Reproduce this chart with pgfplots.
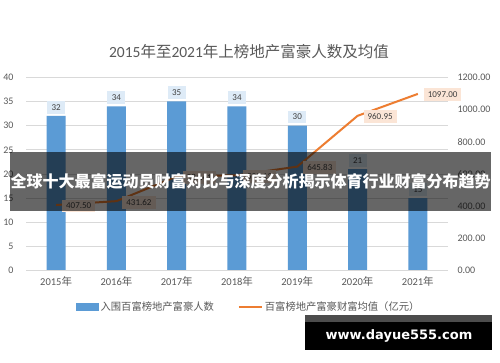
\documentclass[border=0pt]{standalone}
\usepackage{pgfplots}
\pgfplotsset{compat=1.18}
\usepackage{fontspec}
\setmainfont{Noto Sans CJK SC}
\newfontfamily\carlito{Carlito}
\newfontfamily\dejabold{DejaVu Sans Bold}
\definecolor{barblue}{HTML}{5B9BD5}
\definecolor{lineorange}{HTML}{ED7D31}
\definecolor{lblblue}{HTML}{DEEBF7}
\definecolor{lblorange}{HTML}{FBE5D6}
\definecolor{textgray}{HTML}{595959}
\definecolor{lbltext}{HTML}{404040}
\definecolor{gridgray}{HTML}{D9D9D9}
\begin{document}
\begin{tikzpicture}[x=1pt,y=1pt]
\path[use as bounding box, fill=white] (0,0) rectangle (500,362);
\node[text=textgray, font=\fontsize{15.5}{18}\selectfont] at (249,310) {{\carlito 2015}年至{\carlito 2021}年上榜地产富豪人数及均值};
\begin{axis}[
  at={(26pt,91.3pt)}, anchor=south west,
  scale only axis, width=422pt, height=193.4pt,
  xmin=-0.5, xmax=6.5, ymin=0, ymax=40,
  xtick={0,...,6},
  xticklabels={{{\carlito 2015}年},{{\carlito 2016}年},{{\carlito 2017}年},{{\carlito 2018}年},{{\carlito 2019}年},{{\carlito 2020}年},{{\carlito 2021}年}},
  ytick={0,5,...,40},
  yticklabels={0,5,10,15,20,25,30,35,40},
  axis line style={draw=none},
  major tick length=0pt,
  ymajorgrids, grid style={draw=gridgray, line width=0.7pt},
  yticklabel style={font=\carlito\fontsize{10}{12}\selectfont, text=textgray, xshift=-9pt},
  xticklabel style={font=\fontsize{10.5}{12}\selectfont, text=textgray, yshift=-2pt},
  ybar, bar width=19pt,
  nodes near coords, point meta=explicit symbolic,
  nodes near coords style={anchor=south, yshift=2pt, fill=lblblue, text=lbltext,
    font=\carlito\fontsize{9}{10}\selectfont, inner xsep=4.5pt, inner ysep=3.5pt},
]
\addplot[fill=barblue, draw=none] coordinates {(0,32) [32] (1,34) [34] (2,35) [35] (3,34) [34] (4,30) [30] (5,21) [21] (6,15) [15]};
\draw[gridgray, line width=0.8pt] (rel axis cs:0,0) -- (rel axis cs:1,0);
\end{axis}
\begin{axis}[
  at={(26pt,91.3pt)}, anchor=south west,
  scale only axis, width=422pt, height=193.4pt,
  xmin=-0.5, xmax=6.5, ymin=0, ymax=1200,
  hide x axis,
  axis line style={draw=none},
  major tick length=0pt,
  yticklabel pos=right,
  ytick={0,200,...,1200},
  yticklabels={0.00,200.00,400.00,600.00,800.00,1000.00,1200.00},
  yticklabel style={font=\carlito\fontsize{10}{12}\selectfont, text=textgray, xshift=6pt},
  legend style={at={(0.528,-0.186)}, anchor=center, draw=none, fill=none,
    legend columns=2, font=\fontsize{10.3}{12}\selectfont, text=textgray,
    /tikz/every even column/.append style={column sep=22pt}},
  legend cell align=left,
]
\addlegendimage{legend image code/.code={\fill[barblue] (0pt,-3.5pt) rectangle (22pt,3.5pt);}}
\addlegendentry{入围百富榜地产富豪人数}
\addplot[lineorange, line width=2pt, mark=none,
  nodes near coords, point meta=explicit symbolic,
  nodes near coords style={anchor=west, xshift=5pt, yshift=-1pt, fill=lblorange, text=lbltext,
    font=\carlito\fontsize{9}{10}\selectfont, inner xsep=4pt, inner ysep=3.5pt},
  legend image code/.code={\draw[lineorange, line width=2pt] (0pt,0pt) -- (23pt,0pt);}]
  coordinates {(0,407.50) [407.50] (1,431.62) [431.62] (2,584.41) [584.41] (3,592.13) [592.13] (4,645.83) [645.83] (5,960.95) [960.95] (6,1097.00) [1097.00]};
\addlegendentry{百富榜地产富豪财富均值（亿元）}
\end{axis}
% overlay banner
\fill[black, opacity=0.6] (10,151) rectangle (491,210);
\node[text=white, font=\bfseries\fontsize{16}{18}\selectfont] at (250.5,181) {全球十大最富运动员财富对比与深度分析揭示体育行业财富分布趋势};
% watermark
\fill[black!70] (305,40) rectangle (492,47);
\fill[black] (305,12) rectangle (492,40);
\node[text=white, font=\dejabold\fontsize{13}{15}\selectfont] at (399,26) {www.dayue555.com};
\end{tikzpicture}
\end{document}
